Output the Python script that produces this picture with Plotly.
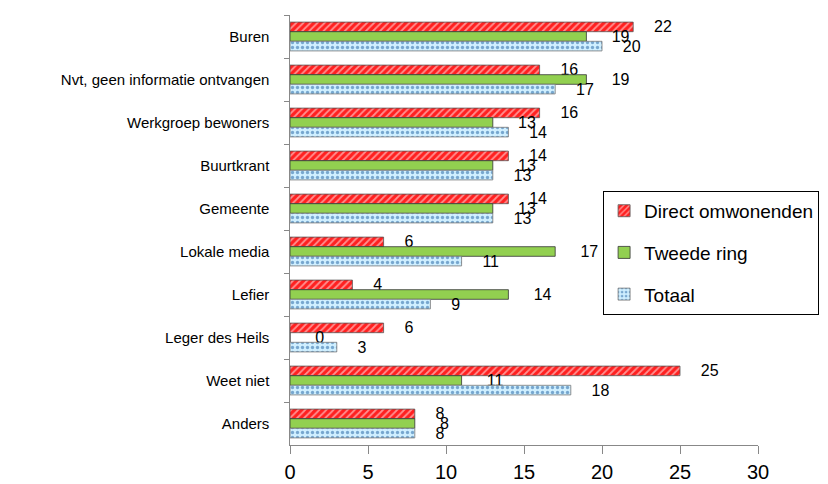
import plotly.graph_objects as go

categories = ["Buren", "Nvt, geen informatie ontvangen", "Werkgroep bewoners", "Buurtkrant",
              "Gemeente", "Lokale media", "Lefier", "Leger des Heils", "Weet niet", "Anders"]
direct = [22, 16, 16, 14, 14, 6, 4, 6, 25, 8]
tweede = [19, 19, 13, 13, 13, 17, 14, 0, 11, 8]
totaal = [20, 17, 14, 13, 13, 11, 9, 3, 18, 8]

FONT = "Liberation Sans, Arial, sans-serif"
LBL = dict(size=16, color="black", family=FONT)

fig = go.Figure()
fig.add_trace(go.Bar(
    y=categories, x=direct, name="Direct omwonenden", orientation="h", legendgroup="a",
    marker=dict(color="#FF2020", line=dict(color="#555555", width=0.8),
                pattern=dict(shape="/", fgcolor="white", bgcolor="#FF2020", size=5, solidity=0.35)),
    texttemplate="    %{x}", textposition="outside", constraintext="none", cliponaxis=False,
    textfont=LBL))
fig.add_trace(go.Bar(
    y=categories, x=tweede, name="Tweede ring", orientation="h", legendgroup="b",
    marker=dict(color="#92D050", line=dict(color="#333333", width=0.8)),
    texttemplate="     %{x}", textposition="outside", constraintext="none", cliponaxis=False,
    textfont=LBL))
fig.add_trace(go.Bar(
    y=categories, x=totaal, name="Totaal", orientation="h", legendgroup="c",
    marker=dict(color="#CCEEFF", line=dict(color="#777777", width=0.8),
                pattern=dict(shape=".", fgcolor="#1F5FA0", bgcolor="#CFEFFF", size=5, solidity=0.35)),
    texttemplate="    %{x}", textposition="outside", constraintext="none", cliponaxis=False,
    textfont=LBL))

fig.update_layout(
    width=828, height=484,
    margin=dict(l=282, r=78, t=7, b=47, autoexpand=False),
    barmode="group", bargap=0.33, bargroupgap=0,
    paper_bgcolor="white", plot_bgcolor="white",
    font=dict(family=FONT, color="black"),
    showlegend=True,
    legend=dict(x=0.669, y=0.591, xanchor="left", yanchor="top",
                bordercolor="black", borderwidth=1, bgcolor="white",
                font=dict(size=19, family=FONT), traceorder="grouped",
                tracegroupgap=14, itemwidth=30),
    xaxis=dict(range=[0, 30], dtick=5, showgrid=False, zeroline=False,
               showline=True, linecolor="#888888", linewidth=1,
               ticks="outside", ticklen=8, tickcolor="#888888",
               ticklabelstandoff=1, automargin=False,
               tickfont=dict(size=20, family=FONT)),
    yaxis=dict(autorange="reversed", showgrid=False, showline=True,
               linecolor="#888888", linewidth=1, ticks="outside",
               tickson="boundaries", ticklen=5, tickcolor="#888888",
               automargin=False,
               tickfont=dict(size=15, family=FONT), ticksuffix="    "),
)

fig.write_html("out.html")
